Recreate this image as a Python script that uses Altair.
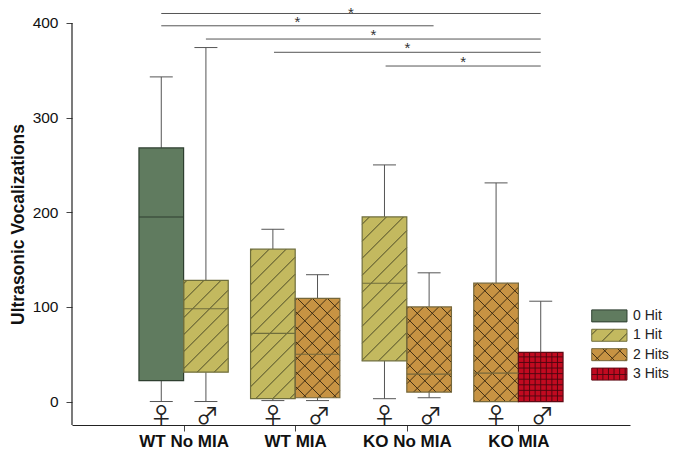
import altair as alt
import pandas as pd

groups = ["WT No MIA", "WT MIA", "KO No MIA", "KO MIA"]
centers = [1, 1, 2, 2, 3, 3, 4, 4]
sexes = ["F", "M", "F", "M", "F", "M", "F", "M"]
hits = ["0 Hit", "1 Hit", "1 Hit", "2 Hits", "1 Hit", "2 Hits", "2 Hits", "3 Hits"]
whisker_low = [0, 0, 1, 1, 3, 4, 0, 0]
q1 = [22, 31, 3, 4, 43, 10, 0, 0]
median = [195, 98, 72, 50, 125, 29, 30, 0]
q3 = [268, 128, 161, 109, 195, 100, 125, 52]
whisker_high = [343, 374, 182, 134, 250, 136, 231, 106]

legend_labels = ["0 Hit", "1 Hit", "2 Hits", "3 Hits"]
legend_values = [90.5, 70, 49.5, 29]

sig_start = [0.8, 0.8, 1.2, 1.81, 2.81]
sig_end = [4.2, 3.24, 4.2, 4.2, 4.2]
sig_level = [410, 397, 383, 369, 354.5]

fills = {"0 Hit": "#607b5f", "1 Hit": "#c3b95f", "2 Hits": "#c79343", "3 Hits": "#c10a20"}
outlines = {"0 Hit": "#2e3f30", "1 Hit": "#6f6e3c", "2 Hits": "#75673a", "3 Hits": "#5f0a14"}

W, H = 558, 417
XMIN, XMAX = 0, 5
YMIN, YMAX = -24.8, 415.8
PX = W / (XMAX - XMIN)
PY = H / (YMAX - YMIN)
BOX = 0.4
CAP = 0.103


def to_px(x, y):
    return x * PX, (YMAX - y) * PY


def to_data(px, py):
    return px / PX, YMAX - py / PY


def hatch(x0, x1, y0, y1, hit):
    """Hatch segments of one rectangle (data units), returned in data units."""
    left, top = to_px(x0, y1)
    right, bottom = to_px(x1, y0)
    segs = []
    if hit == "1 Hit" or hit == "2 Hits":
        step, phase = (17.0, 13.4) if hit == "1 Hit" else (15.0, 5.6)
        k = int((left + top) // step) - 1
        while k * step + phase < right + bottom:
            c = k * step + phase
            a, b = max(left, c - bottom), min(right, c - top)
            if a < b:
                segs.append((a, c - a, b, c - b))
            k += 1
    if hit == "2 Hits":
        step, phase = 15.0, 5.0
        k = int((top - right) // step) - 1
        while k * step + phase < bottom - left:
            c = k * step + phase
            a, b = max(left, top - c), min(right, bottom - c)
            if a < b:
                segs.append((a, a + c, b, b + c))
            k += 1
    if hit == "3 Hits":
        step = 5.58
        x = left + step
        while x < right - 1:
            segs.append((x, top, x, bottom))
            x += step
        y = bottom - step
        while y > top + 1:
            segs.append((left, y, right, y))
            y -= step
    rows = []
    for (ax, ay, bx, by) in segs:
        p, q = to_data(ax, ay)
        r, s = to_data(bx, by)
        rows.append({"x": p, "y": q, "x2": r, "y2": s, "hit": hit})
    return rows


rows, hatch_rows, symbols = [], [], []
for i, c in enumerate(centers):
    left_side = sexes[i] == "F"
    x0, x1 = (c - BOX, c) if left_side else (c, c + BOX)
    mid = (x0 + x1) / 2
    rows.append(dict(x0=x0, x1=x1, mid=mid, capl=mid - CAP, capr=mid + CAP,
                     low=whisker_low[i], q1=q1[i], med=median[i], q3=q3[i],
                     high=whisker_high[i], hit=hits[i],
                     fill=fills[hits[i]], line=outlines[hits[i]]))
    hatch_rows += hatch(x0, x1, q1[i], q3[i], hits[i])
    symbols.append(dict(x=mid + (0 if left_side else 0.015), y=-16.5,
                        t="\u2640" if left_side else "\u2642"))
df = pd.DataFrame(rows)
df_median = df[df.med > 0]
df_hatch = pd.DataFrame(hatch_rows)

leg_x0, leg_x1, leg_half = 4.657, 4.973, 6.0
leg_rows, leg_hatch = [], []
for lab, v in zip(legend_labels, legend_values):
    leg_rows.append(dict(x0=leg_x0, x1=leg_x1, y0=v - leg_half / PY, y1=v + leg_half / PY,
                         tx=5.027, ty=v, label=lab, fill=fills[lab], line=outlines[lab]))
    leg_hatch += hatch(leg_x0, leg_x1, v - leg_half / PY, v + leg_half / PY, lab)
df_leg = pd.DataFrame(leg_rows)
df_leg_hatch = pd.DataFrame(leg_hatch)

df_sig = pd.DataFrame(dict(a=sig_start, b=sig_end, y=sig_level,
                           m=[(p + q) / 2 for p, q in zip(sig_start, sig_end)]))
df_sig["star"] = "*"
df_sig["sy"] = df_sig.y + 11.5
df_sig.loc[0, "sy"] = 418

xs = alt.Scale(domain=[XMIN, XMAX], nice=False, zero=False)
ys = alt.Scale(domain=[YMIN, YMAX], nice=False, zero=False)
DARK = "#444444"
FONT = "Liberation Sans"

xaxis = alt.Axis(values=[1, 2, 3, 4], title=None, grid=False, tickSize=6, tickColor=DARK,
                 domainColor="#222222", labelFont=FONT, labelFontSize=17, labelFontWeight="bold",
                 labelColor="#111111", labelPadding=2, labelExpr=f"{groups}[datum.value-1]")
yaxis = alt.Axis(values=[0, 100, 200, 300, 400], title="Ultrasonic Vocalizations", grid=False,
                 domain=False, tickSize=6, tickColor=DARK, labelFont=FONT, labelFontSize=15.5,
                 labelColor="#111111", labelPadding=8, titleFont=FONT, titleFontSize=17.5,
                 titleFontWeight="bold", titleColor="#111111", titleX=-54, titleY=216,
                 titleAngle=270, titleBaseline="middle", titleAlign="center")


def X(name):
    return alt.X(name, scale=xs, axis=xaxis)


def Y(name):
    return alt.Y(name, scale=ys, axis=yaxis)


axes = alt.Chart(pd.DataFrame({"x": [0], "y": [400], "y2": [YMIN]})).mark_rule(
    color="#222222", strokeWidth=1.2).encode(x=X("x:Q"), y=Y("y:Q"), y2="y2:Q")

whisk_hi = alt.Chart(df).mark_rule(color="#555555", strokeWidth=1).encode(
    x=X("mid:Q"), y=Y("q3:Q"), y2="high:Q")
whisk_lo = alt.Chart(df).mark_rule(color="#555555", strokeWidth=1).encode(
    x=X("mid:Q"), y=Y("q1:Q"), y2="low:Q")
cap_hi = alt.Chart(df).mark_rule(color="#555555", strokeWidth=1).encode(
    x=X("capl:Q"), x2="capr:Q", y=Y("high:Q"))
cap_lo = alt.Chart(df[df.q1 > 0]).mark_rule(color="#555555", strokeWidth=1).encode(
    x=X("capl:Q"), x2="capr:Q", y=Y("low:Q"))

box_fill = alt.Chart(df).mark_rect().encode(
    x=X("x0:Q"), x2="x1:Q", y=Y("q1:Q"), y2="q3:Q",
    fill=alt.Fill("fill:N", scale=None))


def hatch_layer(d):
    parts = []
    for hit, width, col in (("1 Hit", 0.9, "#3d3d20"), ("2 Hits", 0.9, "#33240f"), ("3 Hits", 0.9, "#4a0710")):
        part = d[d.hit == hit]
        parts.append(alt.Chart(part).mark_rule(strokeWidth=width, color=col).encode(
            x=X("x:Q"), x2="x2:Q", y=Y("y:Q"), y2="y2:Q"))
    return parts


box_line = alt.Chart(df).mark_rect(fillOpacity=0, strokeWidth=1.2).encode(
    x=X("x0:Q"), x2="x1:Q", y=Y("q1:Q"), y2="q3:Q",
    stroke=alt.Stroke("line:N", scale=None))
med = alt.Chart(df_median).mark_rule(strokeWidth=1.1).encode(
    x=X("x0:Q"), x2="x1:Q", y=Y("med:Q"),
    color=alt.Color("line:N", scale=None))

sym = alt.Chart(pd.DataFrame(symbols)).mark_text(font="Noto Sans CJK SC", fontSize=23, color="#222222").encode(
    x=X("x:Q"), y=Y("y:Q"), text="t:N")

sig = alt.Chart(df_sig).mark_rule(color="#555555", strokeWidth=1).encode(
    x=X("a:Q"), x2="b:Q", y=Y("y:Q"))
stars = alt.Chart(df_sig).mark_text(font=FONT, fontSize=15, color="#333333", baseline="top").encode(
    x=X("m:Q"), y=Y("sy:Q"), text="star:N")

leg_fill = alt.Chart(df_leg).mark_rect(strokeWidth=1).encode(
    x=X("x0:Q"), x2="x1:Q", y=Y("y0:Q"), y2="y1:Q",
    fill=alt.Fill("fill:N", scale=None))
leg_line = alt.Chart(df_leg).mark_rect(fillOpacity=0, strokeWidth=1).encode(
    x=X("x0:Q"), x2="x1:Q", y=Y("y0:Q"), y2="y1:Q",
    stroke=alt.Stroke("line:N", scale=None))
leg_text = alt.Chart(df_leg).mark_text(font=FONT, fontSize=14, align="left", color="#222222").encode(
    x=X("tx:Q"), y=Y("ty:Q"), text="label:N")

layers = [axes, whisk_hi, whisk_lo, cap_hi, cap_lo, box_fill] + hatch_layer(df_hatch) + [box_line, med, sym, sig, stars,
          leg_fill] + hatch_layer(df_leg_hatch) + [leg_line, leg_text]

chart = alt.layer(*layers).properties(
    width=W, height=H,
    autosize=alt.AutoSizeParams(type="none"),
    padding={"left": 64, "top": 0, "right": 39, "bottom": 25},
).configure_view(stroke=None)

chart.save("out.html", embed_options={"renderer": "svg", "actions": False})
